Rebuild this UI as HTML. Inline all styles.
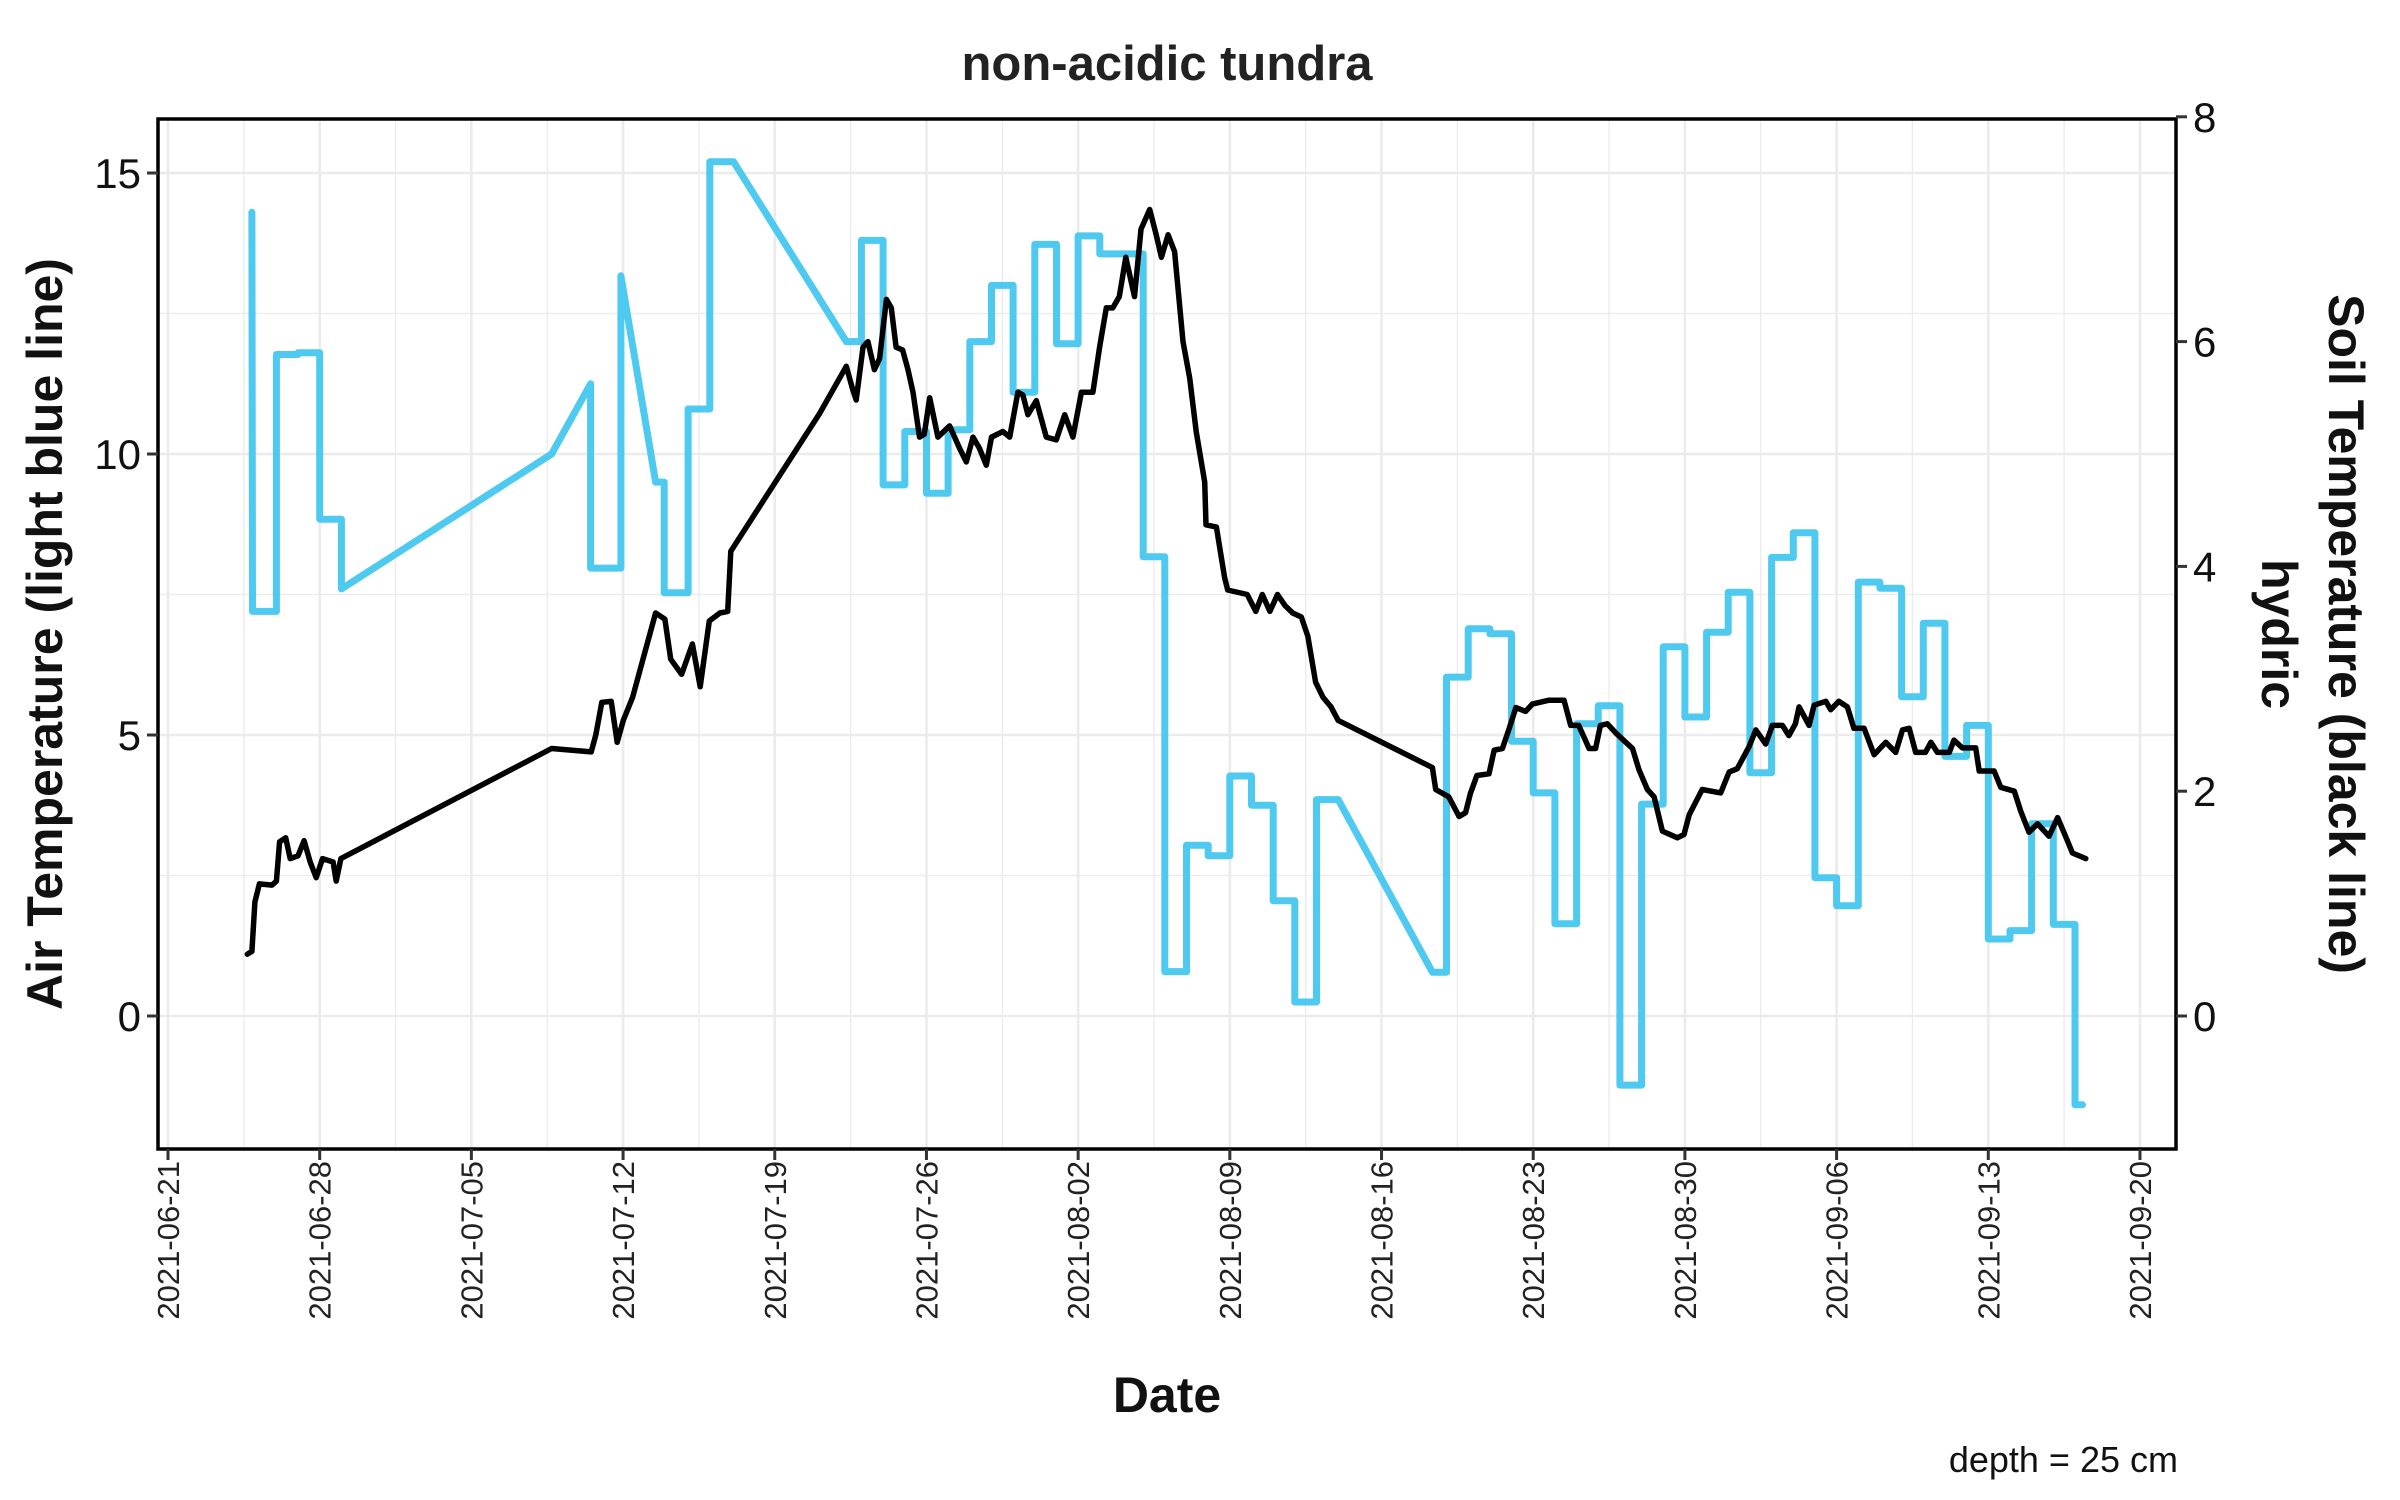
<!DOCTYPE html>
<html><head><meta charset="utf-8"><style>
html,body{margin:0;padding:0;background:#fff;}
svg{display:block;font-family:"Liberation Sans",Arial,sans-serif;}
</style></head><body>
<svg id="chart" width="2400" height="1500" viewBox="0 0 2400 1500" xmlns="http://www.w3.org/2000/svg">
<rect x="0" y="0" width="2400" height="1500" fill="#fff"/>
<g id="grid"></g>
<g id="series"></g>
<rect x="158" y="119" width="2018" height="1030" fill="none" stroke="#000" stroke-width="3.5"/>
<g id="axes"></g>
<text x="1167" y="80" text-anchor="middle" font-size="49" font-weight="bold" fill="#222">non-acidic tundra</text>
<text transform="translate(62,634) rotate(-90)" text-anchor="middle" font-size="50" font-weight="bold" fill="#111">Air Temperature (light blue line)</text>
<text transform="translate(2329,634) rotate(90)" text-anchor="middle" font-size="50" font-weight="bold" fill="#111">Soil Temperature (black line)</text>
<text transform="translate(2262,634) rotate(90)" text-anchor="middle" font-size="50" font-weight="bold" fill="#111">hydric</text>
<text x="1167" y="1412" text-anchor="middle" font-size="50" font-weight="bold" fill="#111">Date</text>
<text x="2178" y="1472" text-anchor="end" font-size="36" fill="#111">depth = 25 cm</text>
</svg>
<script>
const xTickLabels = ["2021-06-21","2021-06-28","2021-07-05","2021-07-12","2021-07-19","2021-07-26","2021-08-02","2021-08-09","2021-08-16","2021-08-23","2021-08-30","2021-09-06","2021-09-13","2021-09-20"];
const xTickDays = [0,7,14,21,28,35,42,49,56,63,70,77,84,91];
const leftTicks = [0,5,10,15];
const rightTicks = [0,2,4,6,8];
const airDays = [3.87,3.9,5,5,6,6,7,7,8,8,17.7,19.5,19.5,20.9,20.9,22.5,22.9,22.9,24,24,25,25,26.1,31.3,32,32,33,33,34,34,35,35,36,36,37,37,38,38,39,39,40,40,41,41,42,42,43,43,45,45,46,46,47,47,48,48,49,49,50,50,51,51,52,52,53,53,54,58.35,59,59,60,60,61,61,62,62,63,63,64,64,65,65,66,66,67,67,68,68,69,69,70,70,71,71,72,72,73,73,74,74,75,75,76,76,77,77,78,78,79,79,80,80,81,81,82,82,83,83,84,84,85,85,86,86,87,87,88,88,88.35];
const airTemps = [14.3,7.2,7.2,11.77,11.77,11.8,11.8,8.84,8.84,7.6,10.0,11.25,7.97,7.97,13.17,9.5,9.5,7.53,7.53,10.8,10.8,15.2,15.2,12.0,12.0,13.8,13.8,9.45,9.45,10.4,10.4,9.3,9.3,10.43,10.43,12.0,12.0,13.0,13.0,11.1,11.1,13.73,13.73,11.96,11.96,13.88,13.88,13.56,13.56,8.17,8.17,0.79,0.79,3.04,3.04,2.85,2.85,4.27,4.27,3.75,3.75,2.05,2.05,0.25,0.25,3.85,3.85,0.78,0.78,6.03,6.03,6.89,6.89,6.8,6.8,4.89,4.89,3.97,3.97,1.64,1.64,5.2,5.2,5.52,5.52,-1.23,-1.23,3.77,3.77,6.57,6.57,5.32,5.32,6.83,6.83,7.54,7.54,4.33,4.33,8.16,8.16,8.6,8.6,2.46,2.46,1.96,1.96,7.72,7.72,7.61,7.61,5.68,5.68,6.99,6.99,4.62,4.62,5.17,5.17,1.37,1.37,1.52,1.52,3.42,3.42,1.63,1.63,-1.58,-1.58];
const soilDays = [3.66,3.87,4.01,4.22,4.8,5.0,5.15,5.43,5.64,6.0,6.28,6.56,6.84,7.13,7.62,7.76,7.98,17.7,19.53,19.74,20.02,20.45,20.73,21.01,21.44,22.5,22.93,23.2,23.7,24.2,24.56,24.98,25.47,25.83,25.97,
30.07,31.3,31.6,31.76,32.07,32.3,32.6,32.84,33.15,33.38,33.6,33.9,34.15,34.38,34.68,34.9,35.15,35.53,36.07,36.53,36.84,37.15,37.45,37.76,38.0,38.53,38.84,39.22,39.45,39.68,40.07,40.53,40.99,41.38,41.76,42.15,42.68,42.99,43.3,43.6,43.9,44.2,44.6,44.9,45.3,45.6,45.84,46.15,46.45,46.84,47.15,47.45,47.84,47.9,48.38,48.76,
48.9,49.8,50.2,50.5,50.85,51.2,51.55,51.9,52.3,52.6,52.96,53.3,53.67,54.0,
58.35,58.5,59.1,59.58,59.88,60.1,60.4,60.96,61.2,61.58,61.88,62.2,62.65,62.96,63.73,64.42,64.73,65.1,65.58,65.88,66.1,66.42,66.8,67.58,67.88,68.27,68.58,68.96,69.65,69.96,70.2,70.8,71.65,72.04,72.42,72.96,
73.27,73.73,74.04,74.5,74.8,75.1,75.27,75.73,75.96,76.5,76.73,77.1,77.5,77.8,78.27,78.73,79.27,79.73,80.04,80.35,80.65,81.1,81.35,81.65,82.2,82.42,82.8,83.42,83.58,84.27,84.58,85.2,85.5,85.88,86.27,86.8,87.2,87.65,87.88,88.5];
const soilTemps = [0.55,0.575,1.015,1.175,1.165,1.2,1.55,1.585,1.4,1.425,1.56,1.37,1.23,1.4,1.37,1.2,1.4,2.38,2.35,2.5,2.79,2.8,2.435,2.63,2.835,3.585,3.53,3.175,3.04,3.31,2.93,3.515,3.585,3.6,4.135,
5.36,5.78,5.57,5.48,5.95,6.0,5.75,5.85,6.375,6.3,5.95,5.925,5.75,5.55,5.15,5.175,5.5,5.15,5.25,5.05,4.93,5.15,5.05,4.9,5.15,5.2,5.15,5.55,5.525,5.35,5.475,5.15,5.125,5.35,5.15,5.55,5.55,5.95,6.3,6.3,6.4,6.75,6.4,7.0,7.175,6.95,6.75,6.95,6.8,6.0,5.675,5.2,4.75,4.37,4.35,3.9,
3.79,3.75,3.6,3.75,3.6,3.75,3.65,3.585,3.55,3.38,2.97,2.835,2.75,2.63,
2.21,2.015,1.95,1.775,1.81,1.98,2.14,2.155,2.365,2.38,2.55,2.745,2.71,2.775,2.81,2.81,2.585,2.585,2.38,2.38,2.585,2.6,2.52,2.38,2.19,2.015,1.95,1.645,1.585,1.615,1.79,2.015,1.985,2.17,2.2,2.395,
2.545,2.42,2.585,2.585,2.495,2.6,2.75,2.585,2.765,2.8,2.725,2.8,2.75,2.56,2.56,2.325,2.435,2.345,2.545,2.56,2.345,2.345,2.435,2.345,2.345,2.455,2.385,2.385,2.18,2.18,2.035,2.0,1.82,1.635,1.71,1.6,1.765,1.56,1.45,1.4];

const NS = "http://www.w3.org/2000/svg";
const P = {l:158, r:2176, t:119, b:1149};
function xScale(d){ return 168 + d*21.67; }
function yLeft(v){ return 1016 - v*56.2; }
function yRight(v){ return yLeft(v*2); }
function mk(tag, attrs, parent){
  const e = document.createElementNS(NS, tag);
  for (const k in attrs) e.setAttribute(k, attrs[k]);
  parent.appendChild(e);
  return e;
}
const grid = document.getElementById('grid');
const axes = document.getElementById('axes');
const series = document.getElementById('series');
for (let d = -3.5; d <= 95; d += 7) {
  const x = xScale(d);
  if (x < P.l || x > P.r) continue;
  const g = mk('line', {x1:x, x2:x, y1:P.t, y2:P.b, stroke:'#ebebeb', 'stroke-width':1.3}, grid);
  
  
}
for (let v = -2.5; v <= 16; v += 5) {
  const y = yLeft(v);
  if (y < P.t || y > P.b) continue;
  const g = mk('line', {x1:P.l, x2:P.r, y1:y, y2:y, stroke:'#ebebeb', 'stroke-width':1.3}, grid);
  
  
}
xTickDays.forEach((d, i) => {
  const x = xScale(d);
  const g = mk('line', {x1:x, x2:x, y1:P.t, y2:P.b, stroke:'#ebebeb', 'stroke-width':2.6}, grid);
  
  
  const t = mk('line', {x1:x, x2:x, y1:P.b, y2:P.b+11, stroke:'#333', 'stroke-width':3}, axes);
  
  
  const lab = mk('text', {transform:`translate(${x+11},1161) rotate(-90)`, 'text-anchor':'end', 'font-size':31, fill:'#222'}, axes);
  lab.textContent = xTickLabels[i];
  
  
});
leftTicks.forEach(v => {
  const y = yLeft(v);
  const g = mk('line', {x1:P.l, x2:P.r, y1:y, y2:y, stroke:'#ebebeb', 'stroke-width':2.6}, grid);
  
  
  const t = mk('line', {x1:P.l-11, x2:P.l, y1:y, y2:y, stroke:'#333', 'stroke-width':3}, axes);
  
  
  const lab = mk('text', {x:P.l-17, y:y+15, 'text-anchor':'end', 'font-size':42, fill:'#111'}, axes);
  lab.textContent = v;
  
  
});
rightTicks.forEach(v => {
  const y = yRight(v);
  const t = mk('line', {x1:P.r, x2:P.r+11, y1:y, y2:y, stroke:'#333', 'stroke-width':3}, axes);
  
  
  const lab = mk('text', {x:P.r+17, y:y+15, 'text-anchor':'start', 'font-size':42, fill:'#111'}, axes);
  lab.textContent = v;
  
  
});
const airPts = airDays.map((d, i) => xScale(d).toFixed(1) + ',' + yLeft(airTemps[i]).toFixed(1)).join(' ');
const air = mk('polyline', {points:airPts, fill:'none', stroke:'#4ec9ef', 'stroke-width':7, 'stroke-linejoin':'round', 'stroke-linecap':'round'}, series);


const soilPts = soilDays.map((d, i) => xScale(d).toFixed(1) + ',' + yRight(soilTemps[i]).toFixed(1)).join(' ');
const soil = mk('polyline', {points:soilPts, fill:'none', stroke:'#000', 'stroke-width':5.5, 'stroke-linejoin':'round', 'stroke-linecap':'round'}, series);


</script>
</body></html>
